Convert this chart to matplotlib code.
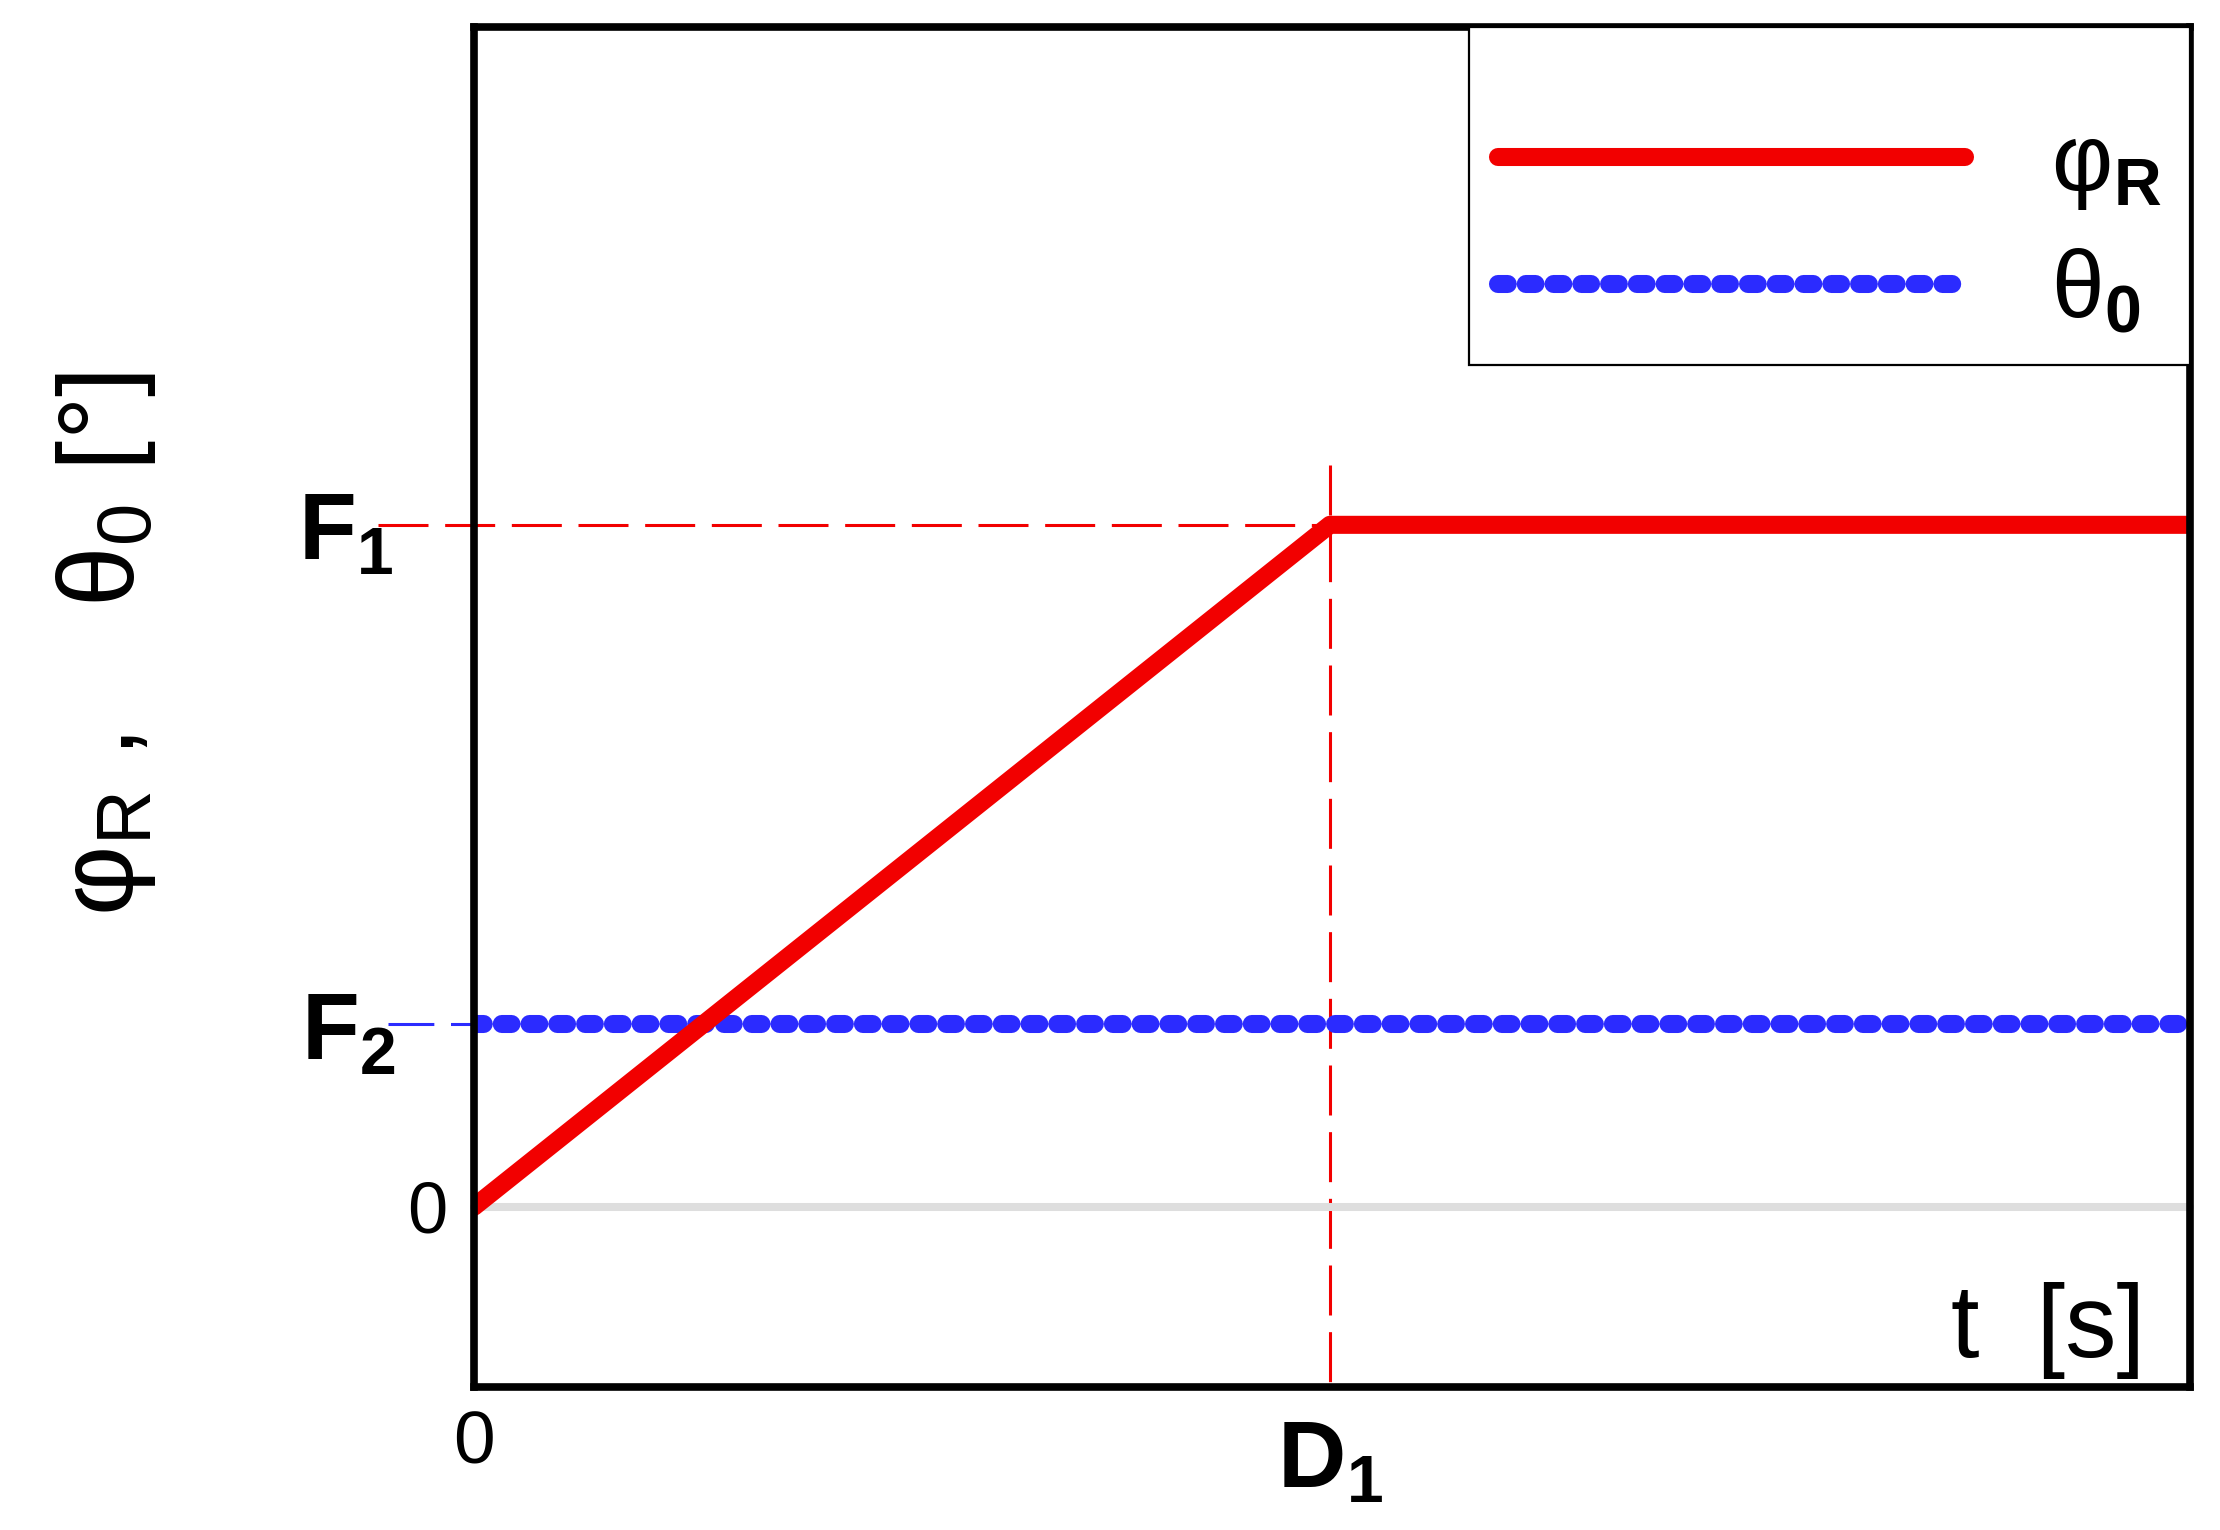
import matplotlib
matplotlib.use('Agg')
import matplotlib.pyplot as plt

plt.rcParams['font.family'] = ['Liberation Sans', 'DejaVu Sans']
plt.rcParams['mathtext.fontset'] = 'custom'
plt.rcParams['mathtext.rm'] = 'Liberation Sans'
plt.rcParams['mathtext.it'] = 'Liberation Sans:italic'
plt.rcParams['mathtext.bf'] = 'Liberation Sans:bold'
plt.rcParams['mathtext.sf'] = 'Liberation Sans'
plt.rcParams['lines.scale_dashes'] = False

# ---------------- data ----------------
D1 = 1.0          # time at which phi_R reaches F1
F1 = 1.0          # final value of phi_R
F2 = 0.268        # constant value of theta_0
T_END = 2.005

t_phi = [0.0, D1, T_END]
phi_R = [0.0, F1, F1]
t_theta = [0.0, T_END]
theta_0 = [F2, F2]

x_ticks = [0.0, D1]
x_tick_labels = ['0', r'$\mathbf{D_1}$']
y_ticks = [0.0, F2, F1]
y_tick_labels = ['0', r'$\mathbf{F_2}$', r'$\mathbf{F_1}$']

series_labels = [r'$\mathrm{\varphi}_\mathbf{R}$', r'$\mathrm{\theta}_\mathbf{0}$']
y_label = r'$\mathrm{\varphi}_\mathrm{R}$ ,    $\mathrm{\theta}_\mathrm{0}$ [°]'
x_label = 't  [s]'

RED = '#f20000'
BLUE = '#2b2bff'

# ---------------- figure ----------------
fig = plt.figure(figsize=(22.2, 15.3), dpi=100)
ax = fig.add_axes([0.2135, 0.0935, 0.7730, 0.8889])

ax.set_xlim(0, T_END)
ax.set_ylim(-0.264, 1.730)

# zero line
ax.plot(t_theta, [0, 0], color='#dedede', lw=5.8, solid_capstyle='round',
        zorder=3, clip_on=False)

# guide lines
ax.plot([-0.112, D1], [F1, F1], color=RED, lw=2.2, dashes=(36, 12),
        clip_on=False, zorder=2)
ax.plot([D1, D1], [1.088, -0.264], color=RED, lw=2.2, dashes=(36, 12),
        clip_on=False, zorder=2)
ax.plot([-0.10, 0.0], [F2, F2], color=BLUE, lw=2.2, dashes=(33, 12),
        clip_on=False, zorder=2)

# series
l_theta, = ax.plot(t_theta, theta_0, color=BLUE, lw=13, dashes=(7.0, 13.0),
                   dash_capstyle='round', zorder=4)
l_phi, = ax.plot(t_phi, phi_R, color=RED, lw=13, solid_capstyle='round',
                 solid_joinstyle='round', zorder=5)

# spines
for s in ax.spines.values():
    s.set_linewidth(5.5)
    s.set_zorder(6)

# ticks
ax.set_xticks(x_ticks)
ax.set_xticklabels(x_tick_labels)
ax.set_yticks(y_ticks)
ax.set_yticklabels(y_tick_labels)
ax.tick_params(axis='both', length=0, direction='in')
yt = ax.yaxis.get_major_ticks()
yt[0].tick1line.set_markersize(24)
yt[0].tick1line.set_markeredgewidth(1.2)
yt[0].set_pad(19)
yt[1].set_pad(56)
yt[2].set_pad(58)
for lab in ax.get_yticklabels():
    lab.set_fontsize(68)
ax.get_yticklabels()[0].set_fontsize(52)
xt = ax.xaxis.get_major_ticks()
xt[0].set_pad(16)
xt[1].set_pad(22)
for lab in ax.get_xticklabels():
    lab.set_fontsize(68)
ax.get_xticklabels()[0].set_fontsize(54)

# axis labels
ax.set_ylabel(y_label, fontsize=78)
ax.yaxis.set_label_coords(-0.184, 0.546)
ax.text(0.974, 0.006, x_label, transform=ax.transAxes, fontsize=74,
        ha='right', va='bottom')

# legend
leg = ax.legend([l_phi, l_theta], series_labels, loc='upper right',
                bbox_to_anchor=(1.0, 1.0), borderaxespad=0.0, fontsize=68,
                handlelength=4.95, handletextpad=0.91, labelspacing=0.38,
                borderpad=0.30, frameon=True, fancybox=False,
                edgecolor='black', framealpha=1.0, title=' ', title_fontsize=22)
leg.get_frame().set_linewidth(1.6)
leg.set_zorder(7)

fig.savefig('out.png', dpi=100, facecolor='white')
